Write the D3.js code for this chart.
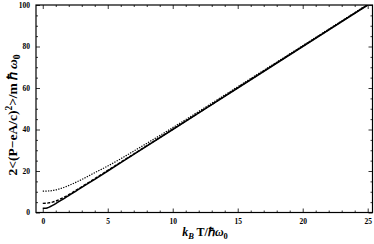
<!DOCTYPE html>
<html>
<head>
<meta charset="utf-8">
<script src="https://cdn.jsdelivr.net/npm/d3@7"></script>
<style>
  body { margin: 0; background: #fff; }
  svg { display: block; }
  .axis path { stroke: #000; stroke-width: 1.2; }
  .axis line { stroke: #000; stroke-width: 0.8; }
  .axis text { font-family: "Liberation Serif", serif; font-weight: bold; font-size: 7.5px; fill: #000; }
</style>
</head>
<body>
<svg width="374" height="244"></svg>
<script>
// values
const xSolid = [0, 0.25, 0.5, 0.75, 1, 1.5, 2, 2.5, 3, 4, 5, 7, 10, 15, 20, 25];
const ySolid = [2.0, 2.05, 2.6, 3.4, 4.3, 6.2, 8.1, 10.1, 12.1, 16.0, 20.0, 28.0, 40.0, 60.0, 80.0, 100.0];

const xDashed = [0, 0.25, 0.5, 0.75, 1, 1.5, 2, 2.5, 3, 4, 5, 7, 10, 15, 20, 25];
const yDashed = [4.4, 4.45, 4.7, 5.0, 5.5, 6.9, 8.6, 10.5, 12.4, 16.3, 20.3, 28.2, 40.1, 60.1, 80.1, 100.1];

const xDotted = [0, 0.5, 1, 1.5, 2, 2.5, 3, 4, 5, 6, 7, 8, 10, 12, 15, 20, 25];
const yDotted = [10.3, 10.4, 10.9, 11.8, 13.0, 14.4, 15.9, 19.2, 22.4, 25.9, 29.6, 33.3, 40.9, 48.7, 60.6, 80.4, 100.3];

const xMajor = [0, 5, 10, 15, 20, 25];
const yMajor = [0, 20, 40, 60, 80, 100];

const svg = d3.select("svg");
const mLeft = 36, mRight = 372.5, mTop = 5, mBottom = 212.5;

const x = d3.scaleLinear().domain([-0.52, 25.37]).range([mLeft, mRight]);
const y = d3.scaleLinear().domain([0, 100]).range([mBottom, mTop]);

const xMinor = d3.range(0, 26, 1).filter(v => v % 5 !== 0);
const yMinor = d3.range(0, 101, 5).filter(v => v % 20 !== 0);

// clip for curves
svg.append("clipPath").attr("id", "clip")
  .append("rect").attr("x", mLeft).attr("y", mTop).attr("width", mRight - mLeft).attr("height", mBottom - mTop);

const line = d3.line().x(d => x(d[0])).y(d => y(d[1])).curve(d3.curveMonotoneX);

const curves = svg.append("g").attr("clip-path", "url(#clip)");
curves.append("path")
  .datum(d3.zip(xDotted, yDotted))
  .attr("d", line).attr("fill", "none").attr("stroke", "#000")
  .attr("stroke-width", 1.2).attr("stroke-dasharray", "1.3,1.3");
curves.append("path")
  .datum(d3.zip(xDashed, yDashed))
  .attr("d", line).attr("fill", "none").attr("stroke", "#000")
  .attr("stroke-width", 1.4).attr("stroke-dasharray", "3,1.5");
curves.append("path")
  .datum(d3.zip(xSolid, ySolid))
  .attr("d", line).attr("fill", "none").attr("stroke", "#000")
  .attr("stroke-width", 1.5);

// axes: ticks pointing inward on all four sides
function addAxis(axisFn, scale, major, minor, tx, ty, labels) {
  svg.append("g").attr("class", "axis").attr("transform", `translate(${tx},${ty})`)
    .call(axisFn(scale).tickValues(minor).tickSize(-2).tickFormat(""))
    .call(g => g.select(".domain").remove());
  const g = svg.append("g").attr("class", "axis").attr("transform", `translate(${tx},${ty})`)
    .call(axisFn(scale).tickValues(major).tickSize(-4).tickPadding(6)
      .tickFormat(labels ? d3.format("d") : ""));
  g.select(".domain").remove();
  return g;
}
addAxis(d3.axisBottom, x, xMajor, xMinor, 0, mBottom, true);
addAxis(d3.axisTop, x, xMajor, xMinor, 0, mTop, false);
addAxis(d3.axisLeft, y, yMajor, yMinor, mLeft, 0, true);
addAxis(d3.axisRight, y, yMajor, yMinor, mRight, 0, false);

svg.append("rect")
  .attr("x", mLeft).attr("y", mTop).attr("width", mRight - mLeft).attr("height", mBottom - mTop)
  .attr("fill", "none").attr("stroke", "#000").attr("stroke-width", 1.2);

// axis titles
const xt = svg.append("text")
  .attr("x", 205).attr("y", 236)
  .attr("text-anchor", "middle")
  .style("font-family", "Liberation Serif, serif").style("font-weight", "bold").style("font-size", "12px");
xt.append("tspan").style("font-style", "italic").text("k");
xt.append("tspan").attr("dy", 2.5).style("font-size", "8.5px").style("font-style", "italic").text("B");
xt.append("tspan").attr("dy", -2.5).text(" T/\u210F");
xt.append("tspan").style("font-style", "italic").text("\u03C9");
xt.append("tspan").attr("dy", 2.5).style("font-size", "8.5px").text("0");

const yt = svg.append("text")
  .attr("transform", "translate(17,115) rotate(-90)")
  .attr("text-anchor", "middle")
  .style("font-family", "Liberation Serif, serif").style("font-weight", "bold").style("font-size", "13.5px");
yt.append("tspan").text("2<(P\u2212eA/c)");
yt.append("tspan").attr("dy", -5.5).style("font-size", "9.5px").text("2");
yt.append("tspan").attr("dy", 5.5).text(">/m\u2009\u210F ");
yt.append("tspan").style("font-style", "italic").text("\u03C9");
yt.append("tspan").attr("dy", 3).style("font-size", "9.5px").text("0");
</script>
</body>
</html>
